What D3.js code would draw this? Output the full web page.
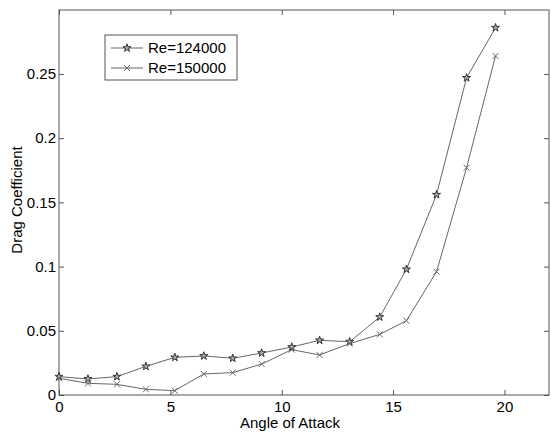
<!DOCTYPE html>
<html>
<head>
<meta charset="utf-8">
<script src="https://cdn.jsdelivr.net/npm/d3@7"></script>
<style>
  body { margin: 0; background: #fff; }
  text { font-family: "Liberation Sans", Arial, sans-serif; }
</style>
</head>
<body>
<svg id="chart" width="551" height="437"></svg>
<script>
// angle of attack (deg)
var angles = [0, 1.3, 2.6, 3.9, 5.2, 6.5, 7.8, 9.1, 10.45, 11.7, 13.05, 14.4, 15.6, 16.95, 18.3, 19.6];
// drag coefficient, Re=124000
var cd124 = [0.0143, 0.0125, 0.0143, 0.0223, 0.0293, 0.0304, 0.0286, 0.0327, 0.0374, 0.0426, 0.0415, 0.0607, 0.0979, 0.156, 0.247, 0.286];
// drag coefficient, Re=150000
var cd150 = [0.013, 0.0091, 0.0083, 0.0044, 0.0034, 0.0164, 0.0174, 0.0241, 0.0353, 0.0312, 0.040, 0.0472, 0.0579, 0.096, 0.177, 0.264];
var seriesNames = ["Re=124000", "Re=150000"];
var xTicks = [0, 5, 10, 15, 20];
var yTicks = [0, 0.05, 0.1, 0.15, 0.2, 0.25];

// plot box (top is a reserved window prop, so use other names)
var pLeft = 59, pRight = 549, pTop = 10, pBottom = 395;
var svg = d3.select("#chart");

var x = d3.scaleLinear().domain([0, 22]).range([pLeft, pRight]);
var y = d3.scaleLinear().domain([0, 0.2998]).range([pBottom, pTop]);

// frame
svg.append("rect")
  .attr("x", pLeft).attr("y", pTop)
  .attr("width", pRight - pLeft).attr("height", pBottom - pTop)
  .attr("fill", "none").attr("stroke", "#555").attr("stroke-width", 1);

// axes, matlab style ticks pointing in
function styleAxis(g) {
  g.select(".domain").remove();
  g.selectAll("line").attr("stroke", "#555");
  g.selectAll("text").attr("fill", "#000").attr("font-size", "15px");
}
svg.append("g").attr("transform", "translate(0," + pBottom + ")")
  .call(d3.axisBottom(x).tickValues(xTicks).tickSize(-5).tickPadding(6).tickFormat(d3.format("d")))
  .call(styleAxis);
svg.append("g").attr("transform", "translate(0," + pTop + ")")
  .call(d3.axisTop(x).tickValues(xTicks).tickSize(-5).tickFormat(""))
  .call(styleAxis);
svg.append("g").attr("transform", "translate(" + pLeft + ",0)")
  .call(d3.axisLeft(y).tickValues(yTicks).tickSize(-5).tickPadding(3).tickFormat(function(d){ return String(+d.toFixed(2)); }))
  .call(styleAxis);
svg.append("g").attr("transform", "translate(" + pRight + ",0)")
  .call(d3.axisRight(y).tickValues(yTicks).tickSize(-5).tickFormat(""))
  .call(styleAxis);

// axis titles
svg.append("text").attr("x", 290).attr("y", 428)
  .attr("text-anchor", "middle").attr("font-size", "15px").text("Angle of Attack");
svg.append("text").attr("transform", "translate(22,200) rotate(-90)")
  .attr("text-anchor", "middle").attr("font-size", "15px").text("Drag Coefficient");

var line = d3.line().x(function(d){ return x(d[0]); }).y(function(d){ return y(d[1]); });
var star = d3.symbol().type(d3.symbolStar).size(20);

function drawSeries(vals, marker) {
  var pts = angles.map(function(a, i){ return [a, vals[i]]; });
  svg.append("path").datum(pts).attr("d", line)
    .attr("fill", "none").attr("stroke", "#666").attr("stroke-width", 1);
  var g = svg.append("g");
  pts.forEach(function(p){ marker(g, x(p[0]), y(p[1])); });
}
function starMarker(g, cx, cy) {
  g.append("path").attr("d", star).attr("transform", "translate(" + cx + "," + cy + ")")
    .attr("fill", "#aaa").attr("stroke", "#333").attr("stroke-width", 1);
}
function crossMarker(g, cx, cy) {
  var s = 3;
  g.append("path").attr("d", "M" + (cx - s) + "," + (cy - s) + "L" + (cx + s) + "," + (cy + s) +
      "M" + (cx - s) + "," + (cy + s) + "L" + (cx + s) + "," + (cy - s))
    .attr("stroke", "#666").attr("stroke-width", 1);
}
drawSeries(cd124, starMarker);
drawSeries(cd150, crossMarker);

// legend
var lg = svg.append("g");
lg.append("rect").attr("x", 105).attr("y", 35).attr("width", 132).attr("height", 45)
  .attr("fill", "#fff").attr("stroke", "#555");
var markers = [starMarker, crossMarker];
seriesNames.forEach(function(name, i){
  var ly = 48 + i * 20;
  lg.append("line").attr("x1", 111).attr("x2", 143).attr("y1", ly).attr("y2", ly)
    .attr("stroke", "#666");
  markers[i](lg, 127, ly);
  lg.append("text").attr("x", 148).attr("y", ly + 5).attr("font-size", "15px").text(name);
});
</script>
</body>
</html>
